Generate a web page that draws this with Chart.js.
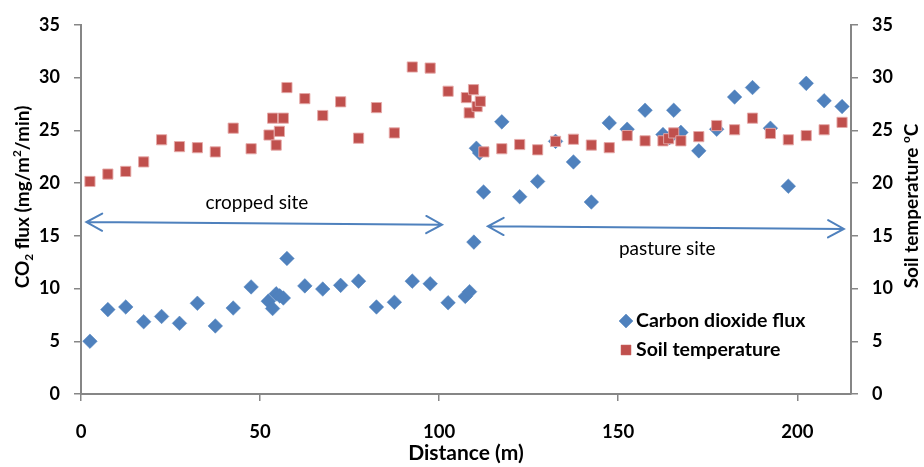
<!DOCTYPE html>
<html>
<head>
<meta charset="utf-8">
<script src="https://cdn.jsdelivr.net/npm/chart.js@4.4.0/dist/chart.umd.min.js"></script>
<style>
  html, body { margin: 0; padding: 0; background: #fff; }
  #wrap { width: 924px; height: 467px; }
</style>
</head>
<body>
<div id="wrap"><canvas id="chart"></canvas></div>
<script>
// ======================
// Data
// ======================
const co2Distance = [2.5, 7.5, 12.5, 17.5, 22.5, 27.5, 32.5, 37.5, 42.5, 47.5,
  52.3, 53.5, 54.5, 55.5, 56.5, 57.5, 62.5, 67.5, 72.5, 77.5,
  82.5, 87.5, 92.5, 97.5, 102.5, 107.3, 108.5, 109.7, 110.4, 111.3,
  112.4, 117.5, 122.5, 127.5, 132.5, 137.5, 142.5, 147.5, 152.5, 157.5,
  162.5, 164.3, 165.5, 167.5, 172.5, 177.5, 182.5, 187.5, 192.5, 197.5,
  202.5, 207.5, 212.5];
const co2Flux = [5.0, 8.0, 8.25, 6.85, 7.35, 6.7, 8.6, 6.45, 8.15, 10.15,
  8.8, 8.1, 9.5, 9.3, 9.1, 12.85, 10.25, 9.95, 10.3, 10.7,
  8.25, 8.7, 10.7, 10.45, 8.65, 9.25, 9.7, 14.4, 23.3, 22.85,
  19.15, 25.8, 18.7, 20.15, 23.95, 22.0, 18.2, 25.7, 25.1, 26.9,
  24.6, 24.3, 26.9, 24.8, 23.05, 25.1, 28.15, 29.05, 25.2, 19.7,
  29.45, 27.8, 27.25];

const tempDistance = [2.5, 7.5, 12.5, 17.5, 22.5, 27.5, 32.5, 37.5, 42.5, 47.5,
  52.5, 53.5, 54.5, 55.4, 56.5, 57.5, 62.5, 67.5, 72.5, 77.5,
  82.5, 87.5, 92.5, 97.5, 102.5, 107.6, 108.4, 109.6, 110.6, 111.5,
  112.5, 117.5, 122.5, 127.5, 132.5, 137.5, 142.5, 147.5, 152.5, 157.5,
  162.5, 164.1, 165.5, 167.5, 172.5, 177.5, 182.5, 187.5, 192.5, 197.5,
  202.5, 207.5, 212.5];
const soilTemp = [20.15, 20.85, 21.1, 22.0, 24.1, 23.45, 23.35, 22.95, 25.2, 23.25,
  24.55, 26.15, 23.6, 24.9, 26.15, 29.05, 28.0, 26.4, 27.7, 24.25,
  27.15, 24.75, 31.0, 30.9, 28.7, 28.1, 26.65, 28.85, 27.25, 27.75,
  22.95, 23.25, 23.65, 23.15, 23.95, 24.15, 23.6, 23.35, 24.5, 24.0,
  24.0, 24.2, 24.75, 24.0, 24.4, 25.45, 25.05, 26.15, 24.7, 24.1,
  24.5, 25.05, 25.75];

const xTicks = [0, 50, 100, 150, 200];
const yTicks = [0, 5, 10, 15, 20, 25, 30, 35];

const seriesNames = ["Carbon dioxide flux", "Soil temperature"];

// double-headed arrows marking the two sites: [x1, y1, x2, y2] in data units
const cropArrow = [1.5, 16.3, 100.8, 16.05];
const pastureArrow = [113.6, 15.9, 213.0, 15.65];
const siteLabels = [
  { text: "cropped site", x: 49.1, y: 18.1 },
  { text: "pasture site", x: 163.7, y: 13.8 }
];

// ======================
// Styling
// ======================
const BLUE = "#4F81BD";
const RED = "#C0504D";
const AXIS = "#868686";
const FONT = "Lato";

function toPoints(xs, ys) {
  return xs.map((x, i) => ({ x: x, y: ys[i] }));
}

// rotated axis title with sub/superscript parts
function drawRichVertical(ctx, cx, cy, parts, size) {
  ctx.save();
  ctx.translate(cx, cy);
  ctx.rotate(-Math.PI / 2);
  ctx.fillStyle = "#000";
  ctx.textBaseline = "alphabetic";
  let total = 0;
  parts.forEach(p => {
    const s = p.mode ? size * 0.62 : size;
    ctx.font = `bold ${s}px ${FONT}`;
    p.w = ctx.measureText(p.t).width;
    total += p.w;
  });
  let x = -total / 2;
  const base = size * 0.35;
  parts.forEach(p => {
    const s = p.mode ? size * 0.62 : size;
    ctx.font = `bold ${s}px ${FONT}`;
    let dy = 0;
    if (p.mode === "sub") dy = size * 0.22;
    if (p.mode === "sup") dy = -size * 0.38;
    ctx.textAlign = "left";
    ctx.fillText(p.t, x, base + dy);
    x += p.w;
  });
  ctx.restore();
}

function drawArrow(ctx, xs, ys, a) {
  const x1 = xs.getPixelForValue(a[0]), y1 = ys.getPixelForValue(a[1]);
  const x2 = xs.getPixelForValue(a[2]), y2 = ys.getPixelForValue(a[3]);
  const ang = Math.atan2(y2 - y1, x2 - x1);
  const len = 18, spread = 0.5;
  ctx.save();
  ctx.strokeStyle = BLUE;
  ctx.lineWidth = 2;
  ctx.lineCap = "round";
  ctx.beginPath();
  ctx.moveTo(x1, y1);
  ctx.lineTo(x2, y2);
  // head at end
  ctx.moveTo(x2 - len * Math.cos(ang - spread), y2 - len * Math.sin(ang - spread));
  ctx.lineTo(x2, y2);
  ctx.lineTo(x2 - len * Math.cos(ang + spread), y2 - len * Math.sin(ang + spread));
  // head at start
  ctx.moveTo(x1 + len * Math.cos(ang - spread), y1 + len * Math.sin(ang - spread));
  ctx.lineTo(x1, y1);
  ctx.lineTo(x1 + len * Math.cos(ang + spread), y1 + len * Math.sin(ang + spread));
  ctx.stroke();
  ctx.restore();
}

const extrasPlugin = {
  id: "extras",
  afterDraw(chart) {
    const ctx = chart.ctx;
    const xs = chart.scales.x, ys = chart.scales.y;

    // arrows + site labels
    drawArrow(ctx, xs, ys, cropArrow);
    drawArrow(ctx, xs, ys, pastureArrow);
    ctx.save();
    ctx.fillStyle = "#000";
    ctx.font = `19px ${FONT}`;
    ctx.textAlign = "center";
    ctx.textBaseline = "middle";
    siteLabels.forEach(l => {
      ctx.fillText(l.text, xs.getPixelForValue(l.x), ys.getPixelForValue(l.y));
    });
    ctx.restore();

    // legend
    const lx = 626, ly = [321, 350];
    const styles = [
      { pointStyle: "rectRot", radius: 7, fill: BLUE },
      { pointStyle: "rect", radius: 7, fill: RED }
    ];
    styles.forEach((s, i) => {
      ctx.save();
      ctx.fillStyle = s.fill;
      ctx.strokeStyle = s.fill;
      ctx.lineWidth = 0.5;
      Chart.helpers.drawPoint(ctx, { pointStyle: s.pointStyle, radius: s.radius, borderWidth: 0.5 }, lx, ly[i]);
      ctx.fillStyle = "#000";
      ctx.font = `bold 19.5px ${FONT}`;
      ctx.textAlign = "left";
      ctx.textBaseline = "middle";
      ctx.fillText(seriesNames[i], lx + 10, ly[i]);
      ctx.restore();
    });

    // axis titles
    drawRichVertical(ctx, 22, 197, [
      { t: "CO" }, { t: "2", mode: "sub" }, { t: " flux (mg/m" },
      { t: "2", mode: "sup" }, { t: "/min)" }
    ], 19);
    drawRichVertical(ctx, 911, 206, [
      { t: "Soil temperature " }, { t: "o", mode: "sup" }, { t: "C" }
    ], 19);
  }
};

function yAxis(position, width) {
  return {
    type: "linear",
    position: position,
    min: 0,
    max: 35,
    afterBuildTicks: s => { s.ticks = yTicks.map(v => ({ value: v })); },
    afterFit: s => { s.width = width; },
    ticks: {
      color: "#000",
      padding: 14,
      font: { family: FONT, size: 18, weight: "bold" }
    },
    grid: {
      drawOnChartArea: false,
      drawTicks: true,
      tickLength: 7,
      color: AXIS,
      lineWidth: 1.5
    },
    border: { display: true, color: AXIS, width: 2 }
  };
}

new Chart(document.getElementById("chart"), {
  type: "scatter",
  data: {
    datasets: [{
      label: seriesNames[0],
      data: toPoints(co2Distance, co2Flux),
      yAxisID: "y",
      pointStyle: "rectRot",
      pointRadius: 7.3,
      backgroundColor: BLUE,
      borderColor: BLUE,
      borderWidth: 0.5,
      order: 1
    }, {
      label: seriesNames[1],
      data: toPoints(tempDistance, soilTemp),
      yAxisID: "y2",
      pointStyle: "rect",
      pointRadius: 7.2,
      backgroundColor: RED,
      borderColor: "rgba(230,170,168,0.9)",
      borderWidth: 1,
      order: 0
    }]
  },
  options: {
    responsive: true,
    maintainAspectRatio: false,
    animation: false,
    layout: { padding: { top: 15, left: 0, right: 0, bottom: 0 } },
    plugins: {
      legend: { display: false },
      tooltip: { enabled: false }
    },
    scales: {
      x: {
        type: "linear",
        min: 0,
        max: 215,
        afterBuildTicks: s => { s.ticks = xTicks.map(v => ({ value: v })); },
        afterFit: s => { s.height = 73; },
        ticks: {
          color: "#000",
          padding: 20,
          font: { family: FONT, size: 18.5, weight: "bold" }
        },
        grid: {
          drawOnChartArea: false,
          drawTicks: true,
          tickLength: 7,
          color: AXIS,
          lineWidth: 1.5
        },
        border: { display: true, color: AXIS, width: 2 },
        title: {
          display: true,
          text: "Distance (m)",
          color: "#000",
          padding: { top: 0, bottom: 1 },
          font: { family: FONT, size: 21, weight: "bold" }
        }
      },
      y: yAxis("left", 81),
      y2: yAxis("right", 73)
    }
  },
  plugins: [extrasPlugin]
});
</script>
</body>
</html>
